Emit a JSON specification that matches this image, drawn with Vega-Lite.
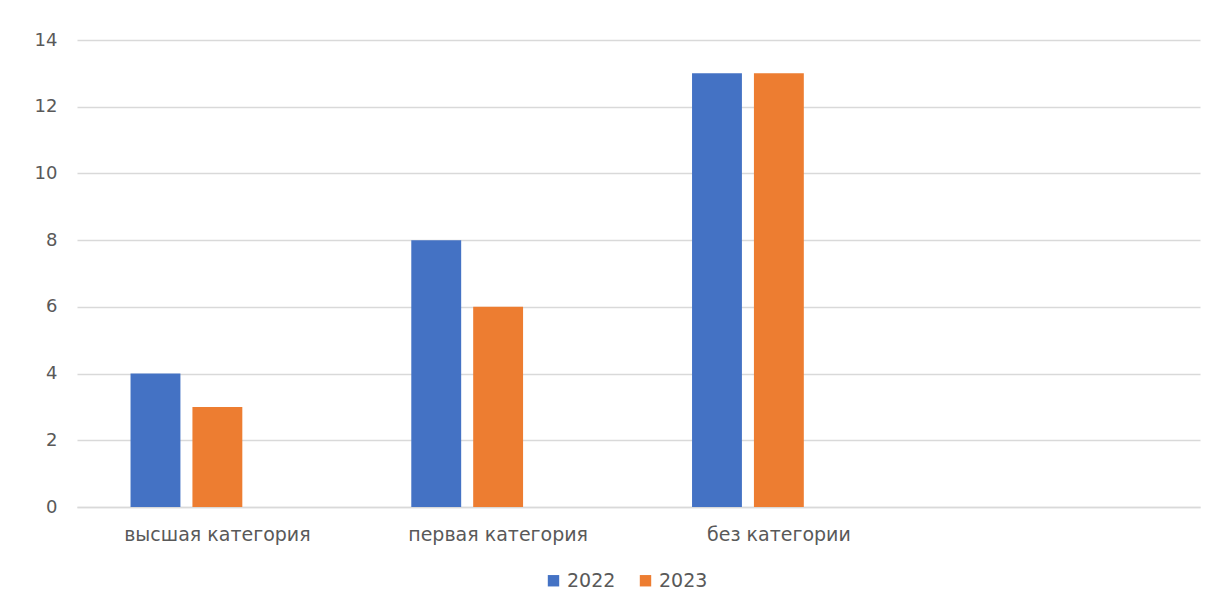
{
  "$schema": "https://vega.github.io/schema/vega-lite/v6.json",
  "autosize": {"type": "none"},
  "width": 1123,
  "height": 467,
  "padding": {"left": 77, "top": 40, "right": 22, "bottom": 100},
  "background": "white",
  "config": {
    "view": {"stroke": null},
    "font": "DejaVu Sans",
    "axis": {"labelFont": "DejaVu Sans", "labelColor": "#595959"},
    "legend": {"labelFont": "DejaVu Sans"}
  },
  "data": {
    "values": [
      {"category": "высшая категория", "year": "2022", "value": 4},
      {"category": "высшая категория", "year": "2023", "value": 3},
      {"category": "первая категория", "year": "2022", "value": 8},
      {"category": "первая категория", "year": "2023", "value": 6},
      {"category": "без категории", "year": "2022", "value": 13},
      {"category": "без категории", "year": "2023", "value": 13}
    ]
  },
  "mark": {"type": "bar"},
  "encoding": {
    "x": {
      "field": "category",
      "type": "nominal",
      "sort": null,
      "scale": {"domain": ["высшая категория", "первая категория", "без категории", " "], "paddingInner": 0, "paddingOuter": 0},
      "axis": {
        "title": null,
        "labelAngle": 0,
        "ticks": false,
        "domain": true,
        "domainColor": "#d9d9d9",
        "domainWidth": 1.5,
        "labelFontSize": 19,
        "labelPadding": 18,
        "labelLimit": 300
      }
    },
    "xOffset": {
      "field": "year",
      "type": "nominal",
      "scale": {"domain": ["2022", "2023", "2024"], "paddingInner": 0.194, "paddingOuter": 0.865}
    },
    "y": {
      "field": "value",
      "type": "quantitative",
      "scale": {"domain": [0, 14]},
      "axis": {
        "title": null,
        "values": [0, 2, 4, 6, 8, 10, 12, 14],
        "domain": false,
        "ticks": false,
        "gridColor": "#d9d9d9",
        "gridWidth": 1.5,
        "labelFontSize": 18,
        "labelPadding": 20
      }
    },
    "color": {
      "field": "year",
      "type": "nominal",
      "scale": {"domain": ["2022", "2023"], "range": ["#4472C4", "#ED7D31"]},
      "legend": {
        "title": null,
        "orient": "none",
        "direction": "horizontal",
        "legendX": 467,
        "legendY": 531,
        "symbolType": "square",
        "symbolSize": 130,
        "symbolStrokeWidth": 0,
        "labelFontSize": 19,
        "labelColor": "#595959",
        "columnPadding": 20,
        "symbolOffset": 0
      }
    }
  }
}
